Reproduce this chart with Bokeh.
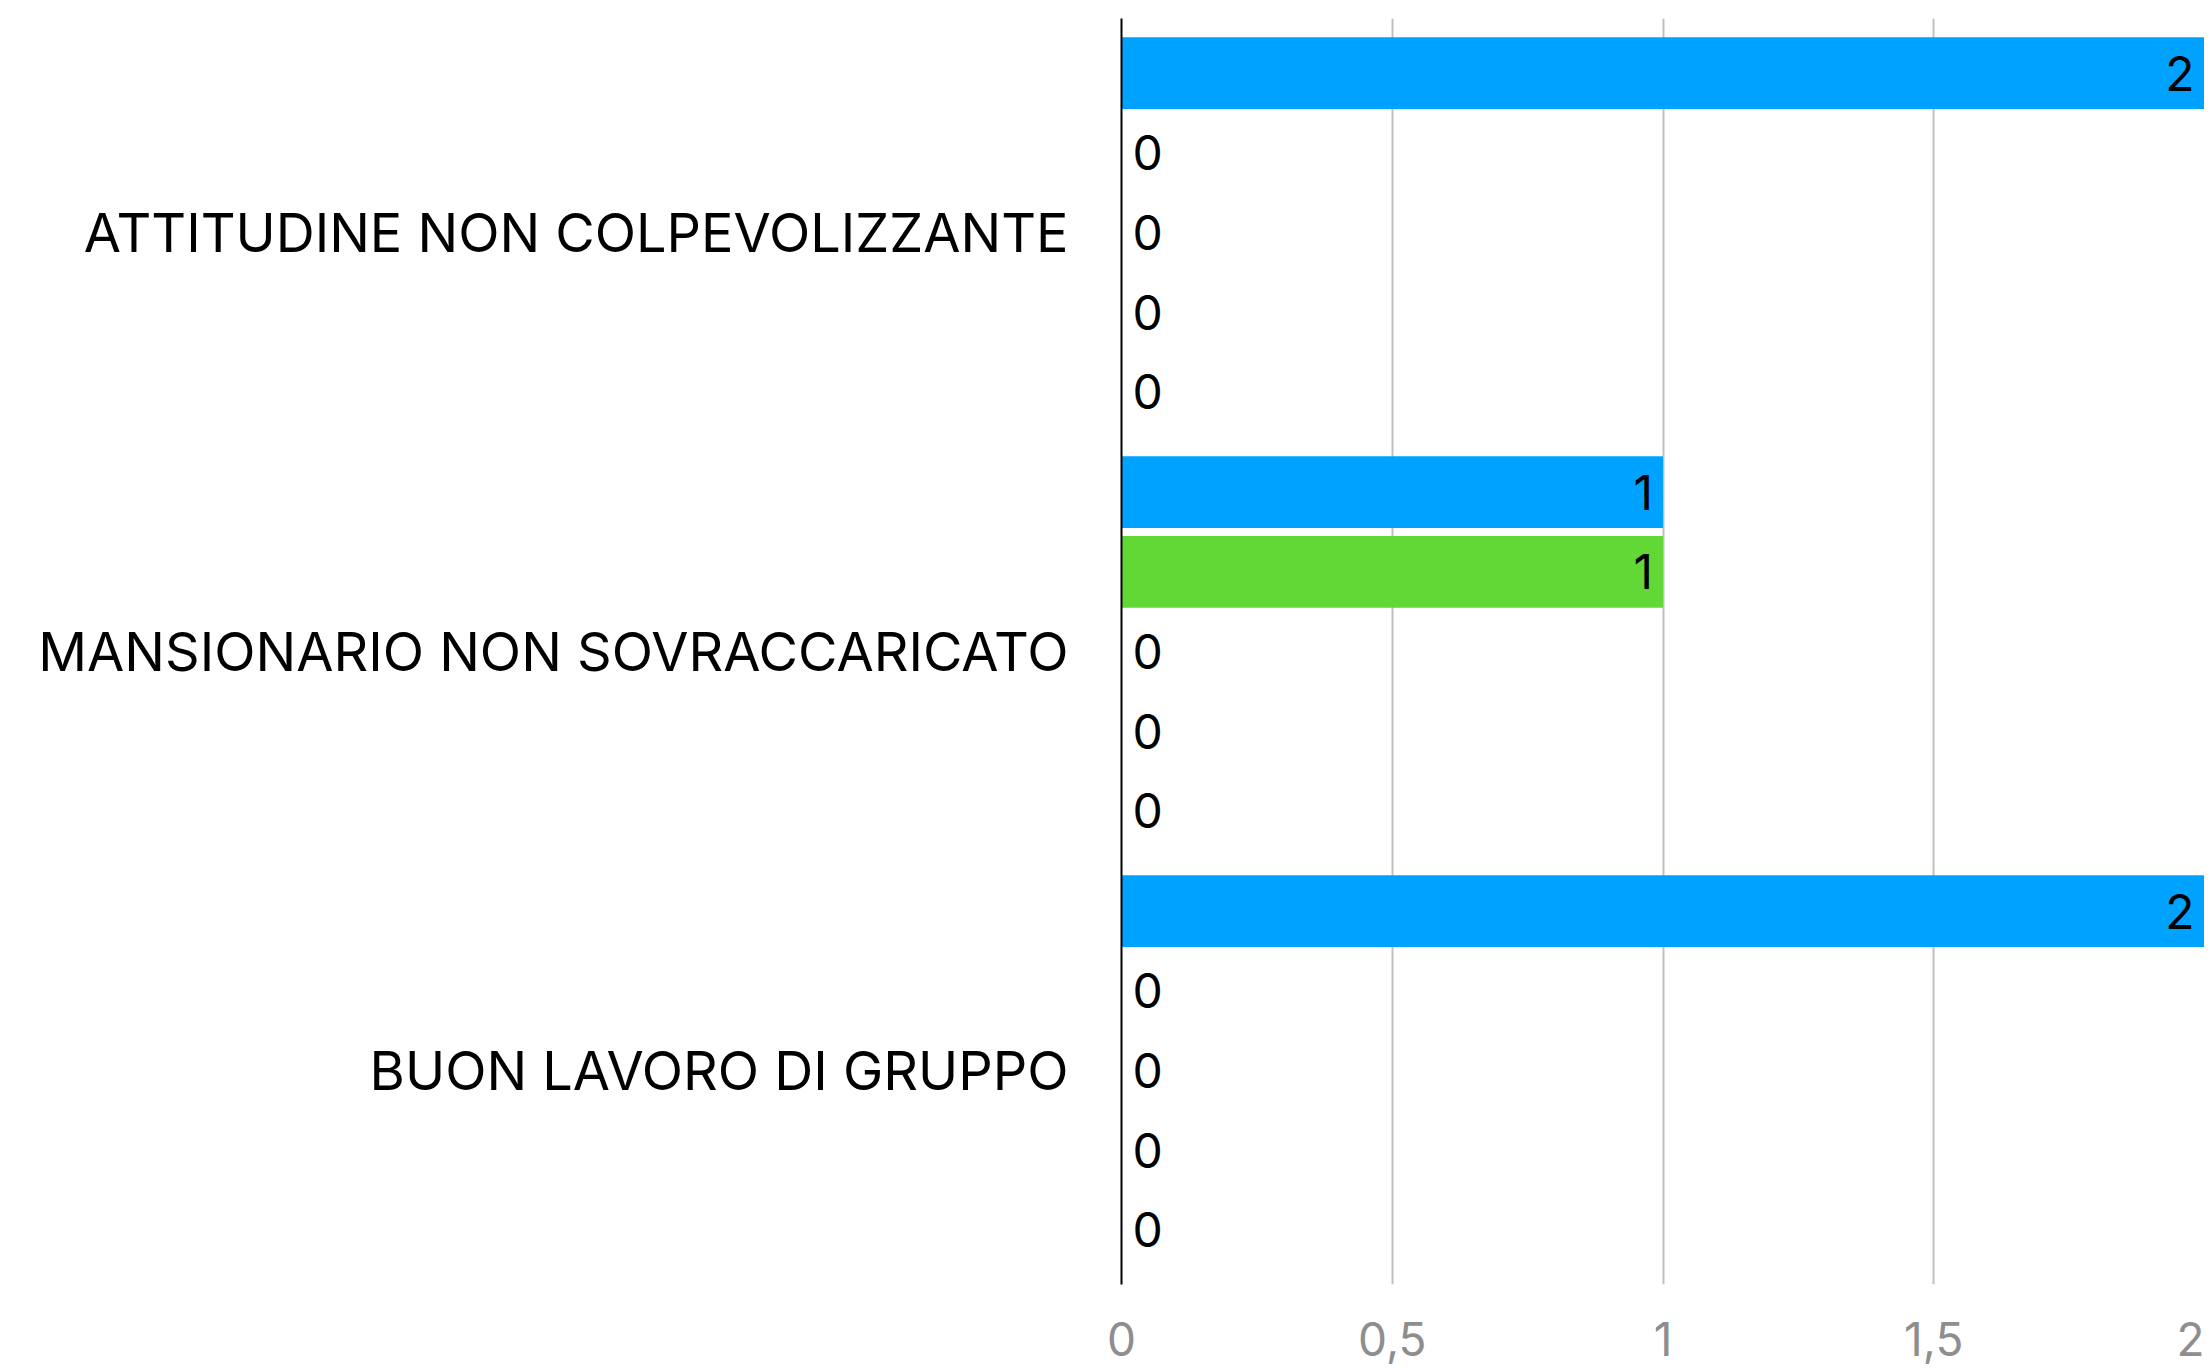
from bokeh.plotting import figure
from bokeh.models import (FactorRange, ColumnDataSource, FixedTicker, CustomJSTickFormatter,
                          CategoricalAxis)
from bokeh.embed import file_html
from bokeh.resources import INLINE
from bokeh.core.properties import value

categories = ["ATTITUDINE NON COLPEVOLIZZANTE", "MANSIONARIO NON SOVRACCARICATO", "BUON LAVORO DI GRUPPO"]
series = ["Serie 1", "Serie 2", "Serie 3", "Serie 4", "Serie 5"]
colors = ["#00A2FF", "#61D836", "#FAE232", "#F8BA00", "#EE220C"]
values = {
    "ATTITUDINE NON COLPEVOLIZZANTE": [2, 0, 0, 0, 0],
    "MANSIONARIO NON SOVRACCARICATO": [1, 1, 0, 0, 0],
    "BUON LAVORO DI GRUPPO": [2, 0, 0, 0, 0],
}
x_ticks = [0, 0.5, 1, 1.5, 2]

factors, vals, cols, labels, aligns, offs = [], [], [], [], [], []
for cat in reversed(categories):
    for i in reversed(range(len(series))):
        v = values[cat][i]
        factors.append((cat, series[i]))
        vals.append(v)
        cols.append(colors[i])
        labels.append(str(v))
        aligns.append("right" if v > 0 else "left")
        offs.append(-10 if v > 0 else 11)

src = ColumnDataSource(dict(y=factors, v=vals, c=cols, lab=labels, al=aligns, off=offs))

# nested range for the bars
yr = FactorRange(*factors, group_padding=0.257, factor_padding=0.0, range_padding=0.02385)

p = figure(y_range=yr, x_range=(0, 2), width=2204, height=1369,
           output_backend="svg", toolbar_location=None, y_axis_location=None,
           min_border_left=1121, min_border_right=0, min_border_top=18, min_border_bottom=85)
p.outline_line_color = None
p.background_fill_color = "white"
p.border_fill_color = "white"

# flat range holding only the category names, aligned with the group centres
p.extra_y_ranges = {"cats": FactorRange(*list(reversed(categories)), factor_padding=1.0, range_padding=0.2086)}
cat_axis = CategoricalAxis(y_range_name="cats")
cat_axis.axis_line_color = "black"
cat_axis.axis_line_width = 2
cat_axis.major_tick_line_color = None
cat_axis.minor_tick_line_color = None
cat_axis.major_tick_out = 0
cat_axis.major_tick_in = 0
cat_axis.major_label_standoff = 53
cat_axis.major_label_text_font = "Inter"
cat_axis.major_label_text_font_size = "54px"
cat_axis.major_label_text_color = "black"
p.add_layout(cat_axis, "left")

p.hbar(y="y", right="v", left=0, height=0.9, fill_color="c", line_color=None, source=src)

p.text(x="v", y="y", text="lab", text_align="al", x_offset="off", text_baseline="middle",
       text_font=value("Inter"), text_font_size="48px", text_color="black", source=src)

# x axis
p.xaxis.ticker = FixedTicker(ticks=x_ticks)
p.xaxis.formatter = CustomJSTickFormatter(code="return tick.toString().replace('.', ',');")
p.xaxis.axis_line_color = None
p.xaxis.major_tick_line_color = None
p.xaxis.minor_tick_line_color = None
p.xaxis.major_tick_out = 0
p.xaxis.major_tick_in = 0
p.xaxis.major_label_text_font = "Inter"
p.xaxis.major_label_text_font_size = "46px"
p.xaxis.major_label_text_color = "#8E8E8E"
p.xaxis.major_label_standoff = 37

p.ygrid.grid_line_color = None
p.xgrid.grid_line_color = "#C0C0C0"
p.xgrid.grid_line_width = 2
p.xgrid.ticker = FixedTicker(ticks=x_ticks[1:])

open("out.html", "w").write(file_html(p, INLINE))
